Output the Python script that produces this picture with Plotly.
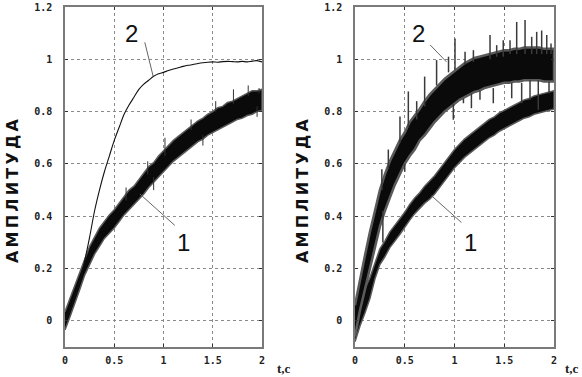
import plotly.graph_objects as go

# ---------------- data ----------------
T = [0.0, 0.05, 0.1, 0.15, 0.2, 0.25, 0.3, 0.35, 0.4, 0.45, 0.5, 0.55, 0.6, 0.65, 0.7,
     0.75, 0.8, 0.85, 0.9, 0.95, 1.0, 1.05, 1.1, 1.15, 1.2, 1.25, 1.3, 1.35, 1.4, 1.45,
     1.5, 1.55, 1.6, 1.65, 1.7, 1.75, 1.8, 1.85, 1.9, 1.95, 2.0]

# left panel, curve 1 (noisy band): upper / lower envelope of the dense core
L1_UP = [0.035, 0.085, 0.135, 0.19, 0.24, 0.285, 0.32, 0.355, 0.38, 0.405, 0.425, 0.45, 0.475,
         0.5, 0.515, 0.54, 0.565, 0.59, 0.605, 0.63, 0.65, 0.67, 0.69, 0.705, 0.72, 0.735,
         0.75, 0.765, 0.775, 0.79, 0.80, 0.815, 0.82, 0.835, 0.84, 0.85, 0.86, 0.87, 0.88,
         0.88, 0.885]
L1_LO = [-0.035, 0.015, 0.065, 0.12, 0.175, 0.215, 0.255, 0.285, 0.315, 0.335, 0.355, 0.38,
         0.405, 0.425, 0.445, 0.465, 0.485, 0.51, 0.53, 0.55, 0.57, 0.59, 0.61, 0.625,
         0.64, 0.655, 0.67, 0.685, 0.695, 0.71, 0.72, 0.73, 0.74, 0.75, 0.76, 0.77, 0.775,
         0.785, 0.79, 0.80, 0.805]
# left panel, curve 2 (smooth line)
L2 = [0.0, 0.04, 0.09, 0.15, 0.23, 0.32, 0.42, 0.50, 0.57, 0.63, 0.69, 0.74, 0.79, 0.825,
      0.855, 0.885, 0.905, 0.92, 0.935, 0.945, 0.95, 0.957, 0.963, 0.968, 0.973, 0.977, 0.98,
      0.984, 0.987, 0.989, 0.99, 0.989, 0.991, 0.992, 0.991, 0.99, 0.992, 0.99, 0.993, 0.995,
      0.99]
# spikes of left curve 1: time, start value, tip value
L1_SPK_T = [0.62, 0.84, 1.015, 1.28, 1.53, 1.71, 1.86, 1.97, 0.9, 1.4, 1.95]
L1_SPK_A = [0.46, 0.56, 0.63, 0.73, 0.80, 0.83, 0.86, 0.87, 0.55, 0.71, 0.82]
L1_SPK_B = [0.51, 0.61, 0.70, 0.77, 0.84, 0.885, 0.90, 0.89, 0.50, 0.67, 0.78]

# right panel, curve 1 (noisy band)
R1_UP = [0.04, 0.08, 0.12, 0.165, 0.22, 0.275, 0.305, 0.34, 0.365, 0.39, 0.415, 0.445, 0.47,
         0.49, 0.515, 0.535, 0.555, 0.58, 0.605, 0.63, 0.655, 0.675, 0.695, 0.71, 0.725, 0.74,
         0.755, 0.77, 0.78, 0.795, 0.805, 0.815, 0.825, 0.835, 0.845, 0.85, 0.86, 0.865, 0.87,
         0.875, 0.88]
R1_LO = [-0.08, -0.02, 0.03, 0.085, 0.16, 0.215, 0.245, 0.28, 0.305, 0.33, 0.355, 0.385, 0.41,
         0.43, 0.45, 0.465, 0.485, 0.51, 0.535, 0.56, 0.585, 0.605, 0.625, 0.64, 0.655, 0.67,
         0.685, 0.70, 0.71, 0.725, 0.735, 0.745, 0.755, 0.765, 0.775, 0.78, 0.79, 0.795, 0.80,
         0.805, 0.81]
# right panel, curve 2 (very noisy band)
R2_UP = [0.06, 0.16, 0.25, 0.34, 0.42, 0.50, 0.56, 0.61, 0.65, 0.69, 0.72, 0.76, 0.785, 0.81,
         0.84, 0.865, 0.885, 0.905, 0.925, 0.94, 0.955, 0.97, 0.985, 0.995, 1.005, 1.01, 1.015,
         1.02, 1.025, 1.03, 1.035, 1.035, 1.04, 1.04, 1.045, 1.045, 1.045, 1.045, 1.04, 1.04,
         1.04]
R2_LO = [-0.06, 0.04, 0.11, 0.20, 0.28, 0.36, 0.42, 0.47, 0.52, 0.56, 0.60, 0.63, 0.655, 0.69,
         0.71, 0.735, 0.76, 0.78, 0.80, 0.815, 0.83, 0.845, 0.855, 0.865, 0.875, 0.88, 0.89,
         0.895, 0.90, 0.905, 0.91, 0.91, 0.915, 0.915, 0.92, 0.92, 0.92, 0.92, 0.915, 0.915,
         0.915]
# spikes of right curve 2: time, start value, tip value
R2_SPK_T = [0.27, 0.335, 0.452, 0.536, 0.62, 0.70, 0.82, 0.94, 1.005, 1.106, 1.19, 1.357,
            1.424, 1.49, 1.558, 1.625, 1.709, 1.776, 1.826, 1.876, 1.927, 1.97,
            0.28, 0.50, 0.988, 1.09, 1.17, 1.256, 1.39, 1.575, 1.675, 1.759, 1.842, 1.95]
R2_SPK_A = [0.50, 0.58, 0.68, 0.74, 0.77, 0.82, 0.90, 0.95, 0.96, 0.98, 0.99, 1.00,
            1.01, 1.01, 1.02, 1.02, 1.02, 1.02, 1.02, 1.02, 1.02, 1.02,
            0.42, 0.60, 0.83, 0.85, 0.87, 0.88, 0.89, 0.91, 0.91, 0.92, 0.92, 0.915]
R2_SPK_B = [0.58, 0.655, 0.781, 0.877, 0.84, 0.934, 0.997, 1.01, 1.08, 1.029, 1.035, 1.093,
            1.054, 1.073, 1.073, 1.143, 1.15, 1.086, 1.105, 1.11, 1.093, 1.06,
            0.30, 0.57, 0.769, 0.832, 0.813, 0.845, 0.832, 0.851, 0.832, 0.845, 0.807, 0.87]

X_TICKS = [0, 0.5, 1, 1.5, 2]
X_TEXT = ["0", "0.5", "1", "1.5", "2"]
Y_TICKS = [0, 0.2, 0.4, 0.6, 0.8, 1.0, 1.2]
Y_TEXT = ["0", "0.2", "0.4", "0.6", "0.8", "1", "1.2"]
Y_TITLE = "А\u2009М\u2009П\u2009Л\u2009И\u2009Т\u2009У\u2009Д\u2009А"
X_UNIT = "t,c"

# ---------------- figure ----------------
fig = go.Figure()


def band(up, lo, xa, ya, halo):
    # dense black core with a grey fringe of the noise
    fig.add_trace(go.Scatter(
        x=T + T[::-1], y=up + lo[::-1], mode="lines", fill="toself",
        fillcolor="#0a0a0a", line=dict(color="#5a5a5a", width=halo),
        xaxis=xa, yaxis=ya, hoverinfo="skip", showlegend=False))


def spikes(ts, a, b, xa, ya, color, width):
    sx, sy = [], []
    for t, p, q in zip(ts, a, b):
        sx += [t, t, None]
        sy += [p, q, None]
    fig.add_trace(go.Scatter(x=sx, y=sy, mode="lines", line=dict(color=color, width=width),
                             xaxis=xa, yaxis=ya, showlegend=False, hoverinfo="skip"))


band(L1_UP, L1_LO, "x", "y", 1.5)
spikes(L1_SPK_T, L1_SPK_A, L1_SPK_B, "x", "y", "#333333", 1)
fig.add_trace(go.Scatter(x=T, y=L2, mode="lines", line=dict(color="#111111", width=1.1),
                         line_shape="spline", xaxis="x", yaxis="y", showlegend=False))

band(R1_UP, R1_LO, "x2", "y2", 1.5)
band(R2_UP, R2_LO, "x2", "y2", 2.5)
spikes(R2_SPK_T, R2_SPK_A, R2_SPK_B, "x2", "y2", "#3a3a3a", 1.5)

tickfont = dict(family="DejaVu Sans Mono", size=10, color="#222222", weight="bold")
ax_common = dict(showline=True, linecolor="#7a7a7a", linewidth=1.5, mirror="ticks",
                 ticks="inside", ticklen=3, tickcolor="#333333",
                 showgrid=True, gridcolor="#8a8a8a", gridwidth=1, griddash="dot",
                 zeroline=False, tickfont=tickfont, automargin=False)
xa = dict(ax_common, range=[0, 2], tickvals=X_TICKS, ticktext=X_TEXT, ticklabelstandoff=3)
ya = dict(ax_common, range=[-0.1, 1.2], tickvals=Y_TICKS, ticktext=Y_TEXT, ticklabelstandoff=9)

yd = [1 - 347 / 377, 1 - 7 / 377]
fig.update_layout(
    width=582, height=377, margin=dict(l=0, r=0, t=0, b=0),
    paper_bgcolor="white", plot_bgcolor="white", showlegend=False,
    xaxis=dict(xa, domain=[65 / 582, 262 / 582], anchor="y"),
    yaxis=dict(ya, domain=yd, anchor="x"),
    xaxis2=dict(xa, domain=[355 / 582, 554 / 582], anchor="y2"),
    yaxis2=dict(ya, domain=yd, anchor="x2"),
)

ann = []
for xpos in [13 / 582, 303 / 582]:
    ann.append(dict(text=Y_TITLE, x=xpos, y=1 - 191 / 377, xref="paper", yref="paper",
                    xanchor="center", yanchor="middle",
                    textangle=-90, showarrow=False,
                    font=dict(family="DejaVu Sans", size=16, color="#111111", weight="bold")))
for xpos in [284 / 582, 572 / 582]:
    ann.append(dict(text=X_UNIT, x=xpos, y=1 - 368 / 377, xref="paper", yref="paper",
                    xanchor="center", yanchor="middle", showarrow=False,
                    font=dict(family="Liberation Serif", size=13, color="#222222", weight="bold")))

numfont = dict(family="Liberation Sans", size=24, color="#111111")
ann += [
    dict(text="2", x=0.68, y=1.10, xref="x", yref="y", showarrow=False, font=numfont),
    dict(text="1", x=1.2, y=0.30, xref="x", yref="y", showarrow=False, font=numfont),
    dict(text="2", x=0.64, y=1.10, xref="x2", yref="y2", showarrow=False, font=numfont),
    dict(text="1", x=1.16, y=0.30, xref="x2", yref="y2", showarrow=False, font=numfont),
]
fig.update_layout(annotations=ann)

lc = dict(color="#666666", width=1)
fig.update_layout(shapes=[
    dict(type="line", xref="x", yref="y", x0=0.81, y0=1.065, x1=0.895, y1=0.935, line=lc),
    dict(type="line", xref="x", yref="y", x0=1.115, y0=0.365, x1=0.76, y1=0.485, line=lc),
    dict(type="line", xref="x2", yref="y2", x0=0.755, y0=1.055, x1=0.92, y1=0.99, line=lc),
    dict(type="line", xref="x2", yref="y2", x0=1.07, y0=0.376, x1=0.77, y1=0.478, line=lc),
])

fig.write_html("out.html", config={"displayModeBar": False},
               post_script="document.body.style.margin='0';")
